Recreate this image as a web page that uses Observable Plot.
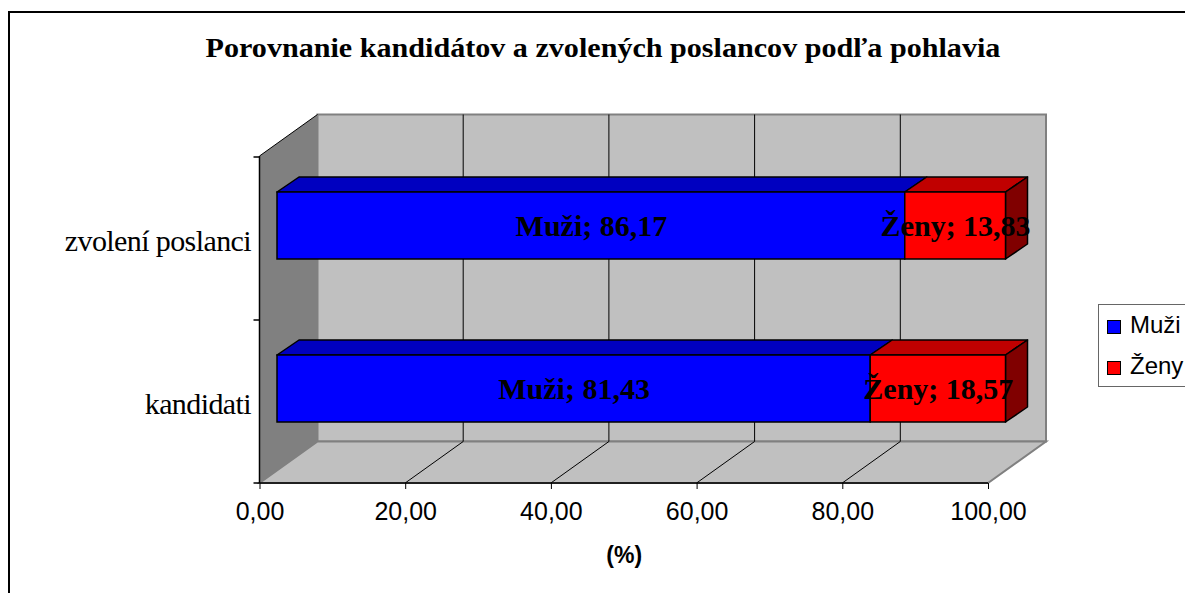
<!DOCTYPE html>
<html><head><meta charset="utf-8">
<script src="https://cdn.jsdelivr.net/npm/d3@7"></script>
<script src="https://cdn.jsdelivr.net/npm/@observablehq/plot@0.6"></script>
<style>
body{margin:0;background:#fff;}
#wrap{position:relative;width:1185px;height:593px;overflow:hidden;background:#fff;}
#chart{position:absolute;left:0;top:0;}
#frame{position:absolute;left:8px;top:11px;width:2000px;height:2000px;border-left:2px solid #000;border-top:2px solid #000;pointer-events:none;}
#title{position:absolute;left:603px;top:35px;transform:translateX(-50%) scaleX(1.115);white-space:nowrap;font-family:"Liberation Serif";font-weight:bold;font-size:27px;line-height:27px;}
#legend{position:absolute;left:1098px;top:304px;width:120px;height:81px;border:1px solid #666;background:#fff;}
#legend .sw{position:absolute;width:12px;height:12px;border:1px solid #000;}
#legend .lb{position:absolute;font-family:"Liberation Sans";font-size:24px;line-height:24px;white-space:nowrap;}
.ylab text{letter-spacing:-0.6px;}
</style>
</head><body>
<div id="wrap">
  <div id="chart"></div>
  <div id="title"></div>
  <div id="legend"></div>
  <div id="frame"></div>
</div>
<script>
const titleText = "Porovnanie kandidátov a zvolených poslancov podľa pohlavia";
const categories = ["zvolení poslanci", "kandidati"];
const series = ["Muži", "Ženy"];
const muzi = [86.17, 81.43];
const zeny = [13.83, 18.57];
const xTicks = [0, 20, 40, 60, 80, 100];
const axisLabel = "(%)";
const frontColors = ["#0000FF", "#FF0000"];
const topColors = ["#0000C0", "#C00000"];
const sideColors = ["#000080", "#800000"];

const values = [muzi, zeny];
const data = [];
categories.forEach((c, i) => series.forEach((s, j) => data.push({cat: c, sex: s, value: values[j][i]})));

const fmt = v => v.toFixed(2).replace(".", ",");

// 3D geometry (pixels)
const WDX = 58, WDY = -41.5;     // wall depth
const BDX = 17.5, BDY = -13;     // bar front offset
const FDX = 22, FDY = -15;       // bar depth
const INSET = 48;

function bandInfo(scales, dims) {
  const Y = scales.y;
  const top = dims.marginTop, bot = dims.height - dims.marginBottom;
  const bw = Y.bandwidth ? Y.bandwidth() : (bot - top) / categories.length;
  return {Y, top, bot, bw};
}

function walls(index, scales, vals, dims) {
  const X = scales.x;
  const {Y, top, bot, bw} = bandInfo(scales, dims);
  const x0 = X(0), x1 = X(100);
  const g = d3.create("svg:g");
  const poly = (pts, fill, stroke, sw) => g.append("polygon")
    .attr("points", pts.map(p => p.join(",")).join(" "))
    .attr("fill", fill).attr("stroke", stroke || "none").attr("stroke-width", sw || 1);
  poly([[x0 + WDX, top + WDY], [x1 + WDX, top + WDY], [x1 + WDX, bot + WDY], [x0 + WDX, bot + WDY]], "#C0C0C0", "#808080", 2);
  poly([[x0, bot], [x1, bot], [x1 + WDX, bot + WDY], [x0 + WDX, bot + WDY]], "#C0C0C0", "#808080", 2);
  poly([[x0, top], [x0 + WDX, top + WDY], [x0 + WDX, bot + WDY], [x0, bot]], "#808080", "none");
  xTicks.slice(1, -1).forEach(t => {
    const xf = X(t);
    g.append("line").attr("x1", xf + WDX).attr("x2", xf + WDX).attr("y1", top + WDY).attr("y2", bot + WDY)
      .attr("stroke", "#000").attr("stroke-width", 1);
    g.append("line").attr("x1", xf).attr("x2", xf + WDX).attr("y1", bot).attr("y2", bot + WDY)
      .attr("stroke", "#000").attr("stroke-width", 1);
  });
  g.append("line").attr("x1", x0).attr("y1", top).attr("x2", x0 + WDX).attr("y2", top + WDY).attr("stroke", "#000");
  g.append("line").attr("x1", x0).attr("x2", x0).attr("y1", top).attr("y2", bot).attr("stroke", "#000").attr("stroke-width", 1.5);
  g.append("line").attr("x1", x0).attr("x2", x1).attr("y1", bot).attr("y2", bot).attr("stroke", "#000").attr("stroke-width", 1.5);
  const bounds = categories.map(c => Y(c)).concat([Y(categories[categories.length - 1]) + bw]);
  bounds.forEach(y => g.append("line").attr("x1", x0 - 6).attr("x2", x0).attr("y1", y).attr("y2", y).attr("stroke", "#000").attr("stroke-width", 1.5));
  return g.node();
}

function barFaces(index, scales, vals, dims) {
  const X = scales.x;
  const {Y, bw} = bandInfo(scales, dims);
  const g = d3.create("svg:g");
  categories.forEach((c, i) => {
    const yT = Y(c) + INSET + BDY;
    const yB = Y(c) + bw - INSET + BDY;
    let acc = 0;
    series.forEach((s, j) => {
      const a = acc, b = acc + values[j][i];
      acc = b;
      const xa = X(a) + BDX, xb = X(b) + BDX;
      g.append("polygon")
        .attr("points", [[xa, yT], [xb, yT], [xb + FDX, yT + FDY], [xa + FDX, yT + FDY]].map(p => p.join(",")).join(" "))
        .attr("fill", topColors[j]).attr("stroke", "#000").attr("stroke-width", 1.5).attr("stroke-linejoin", "round");
      if (j === series.length - 1) {
        g.append("polygon")
          .attr("points", [[xb, yT], [xb + FDX, yT + FDY], [xb + FDX, yB + FDY], [xb, yB]].map(p => p.join(",")).join(" "))
          .attr("fill", sideColors[j]).attr("stroke", "#000").attr("stroke-width", 1.5).attr("stroke-linejoin", "round");
      }
    });
  });
  return g.node();
}

const chart = Plot.plot({
  width: 1185,
  height: 593,
  marginLeft: 259.5,
  marginRight: 197,
  marginTop: 156,
  marginBottom: 110,
  style: {background: "transparent", overflow: "visible"},
  x: {domain: [0, 100]},
  y: {type: "band", domain: categories, padding: 0},
  color: {domain: series, range: frontColors},
  marks: [
    walls,
    barFaces,
    Plot.barX(data, Plot.stackX({
      x: "value", y: "cat", fill: "sex",
      insetTop: INSET, insetBottom: INSET,
      dx: BDX, dy: BDY,
      stroke: "#000", strokeWidth: 1.5
    })),
    Plot.text(data, Plot.stackX({
      x: "value", y: "cat", z: "sex",
      text: d => `${d.sex}; ${fmt(d.value)}`,
      dx: BDX, dy: BDY,
      fontSize: 30, fontWeight: "bold", fontFamily: "Liberation Serif", fill: "#000"
    })),
    Plot.axisX({ticks: xTicks, tickFormat: fmt, tickSize: 6, tickPadding: 13, fontSize: 25, fontFamily: "Liberation Sans", label: null}),
    Plot.axisY({tickSize: 0, tickPadding: 9, fontSize: 30, fontFamily: "Liberation Serif", label: null, dy: 2, className: "ylab"}),
    Plot.text([axisLabel], {frameAnchor: "bottom", dy: 79, fontSize: 23, fontWeight: "bold", fontFamily: "Liberation Sans", fill: "#000"})
  ]
});
document.getElementById("chart").appendChild(chart);
document.getElementById("title").textContent = titleText;

const legend = document.getElementById("legend");
const rows = [{sw: 15, lb: 8}, {sw: 56, lb: 49}];
series.forEach((s, j) => {
  const sw = document.createElement("div");
  sw.className = "sw";
  sw.style.left = "8px"; sw.style.top = rows[j].sw + "px";
  sw.style.background = frontColors[j];
  legend.appendChild(sw);
  const lb = document.createElement("div");
  lb.className = "lb";
  lb.style.left = "31px"; lb.style.top = rows[j].lb + "px";
  lb.textContent = s;
  legend.appendChild(lb);
});
</script>
</body></html>
